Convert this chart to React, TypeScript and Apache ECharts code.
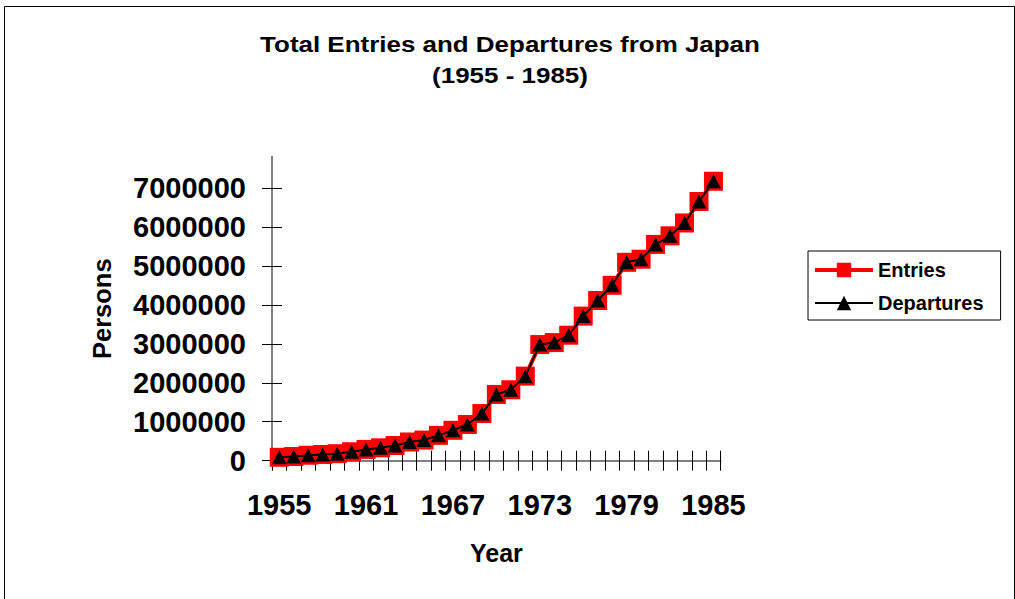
import React, { useEffect, useRef } from "react";
import * as echarts from "echarts";

// Years shown on the category axis
const years: string[] = [
  "1955", "1956", "1957", "1958", "1959", "1960", "1961", "1962", "1963", "1964",
  "1965", "1966", "1967", "1968", "1969", "1970", "1971", "1972", "1973", "1974",
  "1975", "1976", "1977", "1978", "1979", "1980", "1981", "1982", "1983", "1984", "1985",
];

// Total entries per year (persons)
const entries: number[] = [
  87000, 108000, 140000, 160000, 180000, 230000, 290000, 330000, 390000, 480000,
  530000, 650000, 780000, 930000, 1210000, 1700000, 1820000, 2170000, 2980000, 3030000,
  3220000, 3710000, 4110000, 4500000, 5090000, 5170000, 5550000, 5770000, 6100000, 6650000, 7170000,
];

// Total departures per year (persons)
const departures: number[] = [
  87000, 108000, 140000, 160000, 180000, 230000, 290000, 330000, 390000, 480000,
  530000, 650000, 780000, 930000, 1210000, 1700000, 1820000, 2170000, 2980000, 3030000,
  3220000, 3710000, 4110000, 4500000, 5090000, 5170000, 5550000, 5770000, 6100000, 6650000, 7170000,
];

// Value-axis tick labels
const yTicks: number[] = [0, 1000000, 2000000, 3000000, 4000000, 5000000, 6000000, 7000000];

// Two-line chart heading
const titleLines: string[] = ["Total Entries and Departures from Japan", "(1955 - 1985)"];

const FONT = "'Liberation Sans', Arial, Helvetica, sans-serif";

export default function App() {
  const ref = useRef<HTMLDivElement>(null);

  useEffect(() => {
    if (!ref.current) return;
    const chart = echarts.init(ref.current, null, { renderer: "svg" });

    const axisLineStyle = { color: "#808080", width: 2 };
    const tickStyle = { color: "#000", width: 1 };

    // Heading text is set slightly wide, as in the original report font
    const titleGraphics = titleLines.map((line, i) => ({
      type: "text",
      x: 510,
      y: i === 0 ? 44.2 : 75,
      scaleX: 1.18,
      silent: true,
      style: {
        text: line,
        fill: "#000",
        font: `bold 22px ${FONT}`,
        align: "center",
        verticalAlign: "middle",
      },
    }));

    chart.setOption({
      animation: false,
      backgroundColor: "#fff",
      textStyle: { fontFamily: FONT },
      legend: {
        orient: "vertical",
        left: 808,
        top: 251,
        itemWidth: 58,
        itemHeight: 18,
        itemGap: 13,
        padding: [9, 17, 7, 5],
        borderColor: "#000",
        borderWidth: 1,
        backgroundColor: "#fff",
        lineStyle: { width: "inherit" },
        textStyle: { fontFamily: FONT, fontWeight: "bold", fontSize: 20, color: "#000" },
        data: ["Entries", "Departures"],
      },
      grid: { left: 272, right: 294.3, top: 156.7, bottom: 138.3, containLabel: false },
      xAxis: [
        {
          type: "category",
          data: years,
          boundaryGap: true,
          name: "Year",
          nameLocation: "middle",
          nameGap: 80,
          nameTextStyle: { fontFamily: FONT, fontWeight: "bold", fontSize: 25, color: "#000" },
          axisLine: { show: true, lineStyle: axisLineStyle },
          axisTick: { show: true, interval: 0, length: 10, inside: false, lineStyle: tickStyle },
          axisLabel: {
            interval: 5,
            margin: 30,
            fontFamily: FONT,
            fontWeight: "bold",
            fontSize: 29,
            color: "#000",
          },
          splitLine: { show: false },
        },
        {
          type: "category",
          data: years,
          boundaryGap: true,
          position: "bottom",
          axisLine: { show: false },
          axisTick: { show: true, interval: 0, length: 10, inside: true, lineStyle: tickStyle },
          axisLabel: { show: false },
          splitLine: { show: false },
        },
      ],
      yAxis: [
        {
          type: "value",
          min: 0,
          max: 7800000,
          interval: 1000000,
          name: "Persons",
          nameLocation: "middle",
          nameGap: 157,
          nameRotate: 90,
          nameTextStyle: { fontFamily: FONT, fontWeight: "bold", fontSize: 25.5, color: "#000" },
          axisLine: { show: true, lineStyle: axisLineStyle },
          axisTick: { show: true, length: 10, inside: false, lineStyle: tickStyle, customValues: yTicks },
          axisLabel: {
            margin: 26,
            fontFamily: FONT,
            fontWeight: "bold",
            fontSize: 29,
            color: "#000",
            customValues: yTicks,
            formatter: (v: number) => String(v),
          },
          splitLine: { show: false },
        },
        {
          type: "value",
          min: 0,
          max: 7800000,
          interval: 1000000,
          position: "left",
          axisLine: { show: false },
          axisTick: { show: true, length: 10, inside: true, lineStyle: tickStyle, customValues: yTicks },
          axisLabel: { show: false },
          splitLine: { show: false },
        },
      ],
      series: [
        {
          name: "Entries",
          type: "line",
          data: entries,
          xAxisIndex: 0,
          yAxisIndex: 0,
          symbol: "rect",
          symbolSize: 19,
          showAllSymbol: true,
          lineStyle: { color: "#ff0000", width: 4 },
          itemStyle: { color: "#ff0000", borderWidth: 0 },
          z: 3,
        },
        {
          name: "Departures",
          type: "line",
          data: departures,
          xAxisIndex: 0,
          yAxisIndex: 0,
          symbol: "triangle",
          symbolSize: [15, 14],
          showAllSymbol: true,
          lineStyle: { color: "#000", width: 2 },
          itemStyle: { color: "#000", borderWidth: 0 },
          z: 4,
        },
      ],
      graphic: [
        ...titleGraphics,
        {
          type: "rect",
          shape: { x: 4.5, y: 6.5, width: 1010, height: 610 },
          style: { fill: "none", stroke: "#000", lineWidth: 1 },
          silent: true,
          z: 100,
        },
      ],
    });

    return () => chart.dispose();
  }, []);

  return (
    <div
      ref={ref}
      style={{ position: "absolute", left: 0, top: 0, width: 1015, height: 599 }}
    />
  );
}
